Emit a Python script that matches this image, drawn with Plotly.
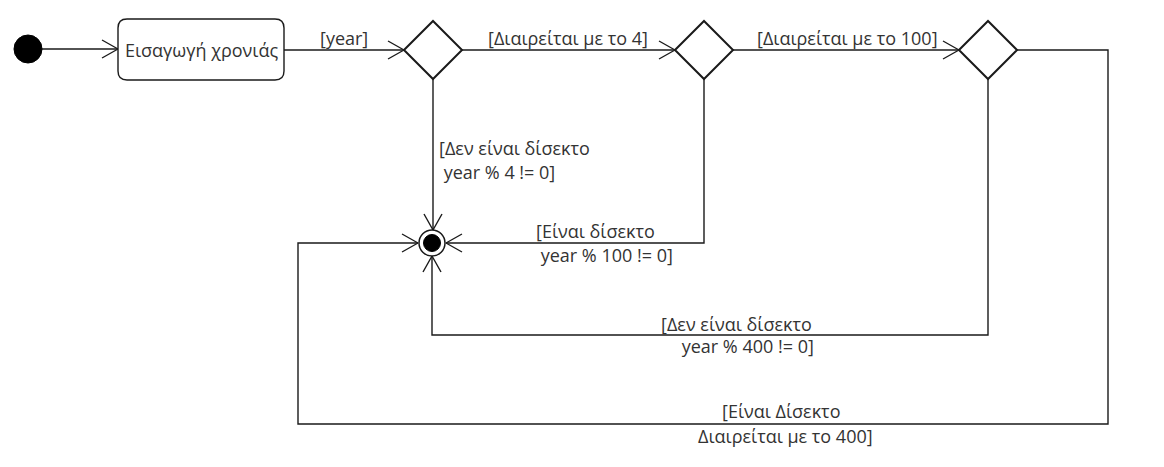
import math
import plotly.graph_objects as go

W, H = 1164, 467
PAD = 8  # page body margin of the html page

# nodes (pixel coordinates of the diagram)
start_node = (28, 49)
final_node = (432, 243)
action_box = (118, 19, 284, 80)
action_text = "Εισαγωγή χρονιάς"
diamond_x = [433, 704, 988]
diamond_y = [50, 50, 50]

# edges: waypoints, last point gets an arrow head
edges = [
    [(42, 49), (118, 49)],
    [(284, 50), (404, 50)],
    [(462, 50), (675, 50)],
    [(733, 50), (959, 50)],
    [(433, 79), (433, 230)],
    [(704, 79), (704, 243), (446, 243)],
    [(988, 79), (988, 335), (432, 335), (432, 256)],
    [(1017, 50), (1108, 50), (1108, 424), (298, 424), (298, 243), (418, 243)],
]

# guard labels: text, left x, centre y
label_text = [
    "[year]",
    "[Διαιρείται με το 4]",
    "[Διαιρείται με το 100]",
    "[Δεν είναι δίσεκτο",
    " year % 4 != 0]",
    "[Είναι δίσεκτο",
    " year % 100 != 0]",
    "[Δεν είναι δίσεκτο",
    " year % 400 != 0]",
    "[Είναι Δίσεκτο",
    "Διαιρείται με το 400]",
]
label_x = [318, 486, 755, 437, 437, 534, 534, 659, 675, 720, 696]
label_y = [38, 38, 38, 148, 172, 231, 255, 324, 346, 411, 436]

line_col = "#1a1a1a"
text_col = "#333333"
font_family = "Open Sans"

fig = go.Figure()

# edge lines
for pts in edges:
    fig.add_trace(go.Scatter(
        x=[p[0] for p in pts], y=[p[1] for p in pts], mode="lines",
        line=dict(color=line_col, width=1.4), hoverinfo="skip", showlegend=False))
    # open arrow head
    (x0, y0), (x1, y1) = pts[-2], pts[-1]
    d = math.hypot(x1 - x0, y1 - y0)
    ux, uy = (x1 - x0) / d, (y1 - y0) / d
    L, Wd = 16, 9
    ax = [x1 - L * ux - Wd * uy, x1, x1 - L * ux + Wd * uy]
    ay = [y1 - L * uy + Wd * ux, y1, y1 - L * uy - Wd * ux]
    fig.add_trace(go.Scatter(
        x=ax, y=ay, mode="lines", line=dict(color=line_col, width=1.4),
        hoverinfo="skip", showlegend=False))

# decision diamonds
for cx, cy in zip(diamond_x, diamond_y):
    r = 29
    fig.add_trace(go.Scatter(
        x=[cx - r, cx, cx + r, cx, cx - r], y=[cy, cy - r, cy, cy + r, cy],
        mode="lines", fill="toself", fillcolor="white",
        line=dict(color=line_col, width=2), hoverinfo="skip", showlegend=False))

shapes = []
# initial node
sx, sy = start_node
shapes.append(dict(type="circle", x0=sx - 14, x1=sx + 14, y0=sy - 14, y1=sy + 14,
                   fillcolor="black", line=dict(color="black", width=1)))
# final node
fx, fy = final_node
shapes.append(dict(type="circle", x0=fx - 13, x1=fx + 13, y0=fy - 13, y1=fy + 13,
                   fillcolor="white", line=dict(color=line_col, width=1.5)))
shapes.append(dict(type="circle", x0=fx - 8.5, x1=fx + 8.5, y0=fy - 8.5, y1=fy + 8.5,
                   fillcolor="black", line=dict(color="black", width=1)))
# action box with rounded corners
bx0, by0, bx1, by1 = action_box
rr = 9
path = (f"M {bx0 + rr},{by0} L {bx1 - rr},{by0} Q {bx1},{by0} {bx1},{by0 + rr} "
        f"L {bx1},{by1 - rr} Q {bx1},{by1} {bx1 - rr},{by1} "
        f"L {bx0 + rr},{by1} Q {bx0},{by1} {bx0},{by1 - rr} "
        f"L {bx0},{by0 + rr} Q {bx0},{by0} {bx0 + rr},{by0} Z")
shapes.append(dict(type="path", path=path, fillcolor="white",
                   line=dict(color=line_col, width=1.4)))

annotations = [dict(x=(bx0 + bx1) / 2, y=(by0 + by1) / 2, text=action_text,
                    showarrow=False, xanchor="center", yanchor="middle",
                    font=dict(family=font_family, size=18, color=text_col))]
for t, x, y in zip(label_text, label_x, label_y):
    annotations.append(dict(x=x, y=y, text=t.replace(" ", "&nbsp;", 1) if t.startswith(" ") else t,
                            showarrow=False, xanchor="left", yanchor="middle",
                            font=dict(family=font_family, size=18, color=text_col)))

fig.update_layout(
    width=W - 2 * PAD, height=H - 2 * PAD, margin=dict(l=0, r=0, t=0, b=0),
    paper_bgcolor="white", plot_bgcolor="white",
    xaxis=dict(range=[PAD, W - PAD], visible=False, fixedrange=True),
    yaxis=dict(range=[H - PAD, PAD], visible=False, fixedrange=True),
    shapes=shapes, annotations=annotations,
)

fig.write_html("out.html")
